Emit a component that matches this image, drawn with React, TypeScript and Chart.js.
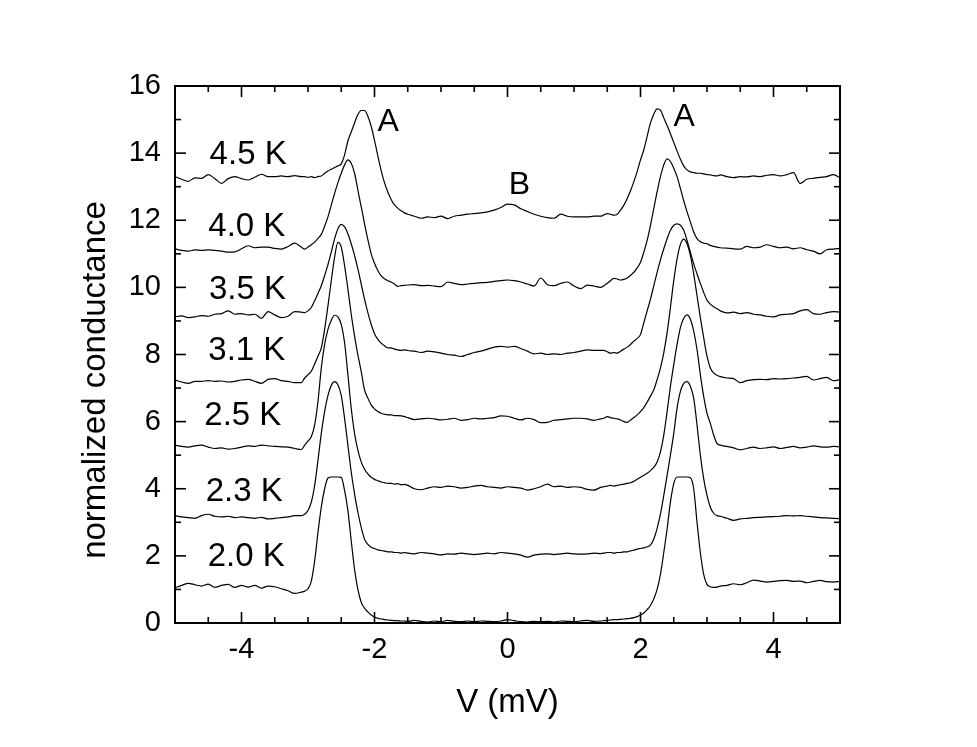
import { useEffect, useRef } from "react";
import { Chart, registerables } from "chart.js";

Chart.register(...registerables);

const FONT = '"Liberation Sans", Arial, Helvetica, sans-serif';

const voltages = [
  -5.0, -4.9, -4.8, -4.7, -4.6, -4.5, -4.4, -4.3, -4.2, -4.1, -4.0, -3.9, -3.8, -3.7, -3.6, -3.5, -3.4, -3.3, -3.2, -3.1,
  -3.05, -3.0, -2.95, -2.9, -2.85, -2.8, -2.75, -2.7, -2.65, -2.6, -2.55, -2.5, -2.45, -2.4, -2.35, -2.3, -2.25, -2.2, -2.15, -2.1, -2.05, -2.0, -1.95, -1.9, -1.85, -1.8, -1.75, -1.7, -1.65, -1.6, -1.55,
  -1.5, -1.4, -1.3, -1.2, -1.1, -1.0, -0.9, -0.8, -0.7, -0.6, -0.5, -0.4, -0.3, -0.2, -0.1, 0, 0.1, 0.2, 0.3, 0.4, 0.5, 0.6, 0.7, 0.8, 0.9, 1.0, 1.1, 1.2, 1.3, 1.4,
  1.45, 1.5, 1.55, 1.6, 1.65, 1.7, 1.75, 1.8, 1.85, 1.9, 1.95, 2.0, 2.05, 2.1, 2.15, 2.2, 2.25, 2.3, 2.35, 2.4, 2.45, 2.5, 2.55, 2.6, 2.65, 2.7, 2.75, 2.8, 2.85, 2.9, 2.95, 3.0, 3.05, 3.1, 3.15, 3.2,
  3.3, 3.4, 3.5, 3.6, 3.7, 3.8, 3.9, 4.0, 4.1, 4.2, 4.3, 4.4, 4.5, 4.6, 4.7, 4.8, 4.9, 5.0,
];

const g45 = [
  13.3, 13.22, 13.16, 13.26, 13.25, 13.36, 13.24, 13.1, 13.24, 13.3, 13.24, 13.2, 13.28, 13.37, 13.3, 13.3, 13.32, 13.3, 13.33, 13.3,
  13.3, 13.28, 13.3, 13.27, 13.3, 13.32, 13.4, 13.47, 13.52, 13.57, 13.62, 13.68, 13.95, 14.36, 14.63, 14.9, 15.15, 15.27, 15.27, 15.1, 14.8, 14.38, 13.92, 13.48, 13.12, 12.84, 12.62, 12.46, 12.36, 12.28, 12.22,
  12.18, 12.12, 12.06, 12.1, 12.08, 12.12, 12.05, 12.12, 12.15, 12.18, 12.2, 12.22, 12.25, 12.3, 12.38, 12.48, 12.46, 12.34, 12.26, 12.18, 12.12, 12.08, 12.06, 12.18, 12.12, 12.1, 12.1, 12.1, 12.12, 12.12,
  12.16, 12.2, 12.18, 12.15, 12.18, 12.3, 12.45, 12.65, 12.88, 13.15, 13.45, 13.8, 14.1, 14.5, 14.9, 15.16, 15.32, 15.28, 15.05, 14.82, 14.58, 14.32, 14.06, 13.82, 13.62, 13.5, 13.44, 13.42, 13.4, 13.4, 13.38, 13.36, 13.35, 13.33, 13.32, 13.35,
  13.3, 13.27, 13.3, 13.29, 13.32, 13.3, 13.34, 13.36, 13.32, 13.36, 13.42, 13.1, 13.22, 13.25, 13.28, 13.3, 13.36, 13.27,
];

const g40 = [
  11.15, 11.1, 11.08, 11.12, 11.1, 11.12, 11.1, 11.08, 11.05, 11.06, 11.15, 11.24, 11.18, 11.2, 11.2, 11.16, 11.14, 11.22, 11.32, 11.2,
  11.14, 11.2, 11.27, 11.35, 11.46, 11.58, 11.82, 12.1, 12.45, 12.8, 13.12, 13.4, 13.65, 13.8, 13.7, 13.4, 12.9, 12.4, 11.9, 11.42, 11.0, 10.72, 10.5, 10.34, 10.26, 10.2, 10.16, 10.1, 10.03, 10.05, 10.06,
  10.07, 10.08, 10.05, 10.06, 10.04, 10.02, 10.16, 10.12, 10.08, 10.1, 10.12, 10.14, 10.15, 10.18, 10.2, 10.22, 10.2, 10.16, 10.1, 10.04, 10.28, 10.08, 10.05, 10.12, 10.16, 10.04, 9.96, 10.07, 10.04, 10.0,
  10.05, 10.12, 10.2, 10.27, 10.25, 10.22, 10.24, 10.28, 10.36, 10.45, 10.58, 10.75, 11.05, 11.4, 11.85, 12.35, 12.85, 13.3, 13.65, 13.83, 13.75, 13.55, 13.3, 12.95, 12.58, 12.25, 11.95, 11.65, 11.45, 11.36, 11.32, 11.3, 11.25, 11.22, 11.2, 11.18,
  11.17, 11.15, 11.14, 11.22, 11.18, 11.2, 11.27, 11.22, 11.18, 11.2, 11.15, 11.18, 11.12, 11.08, 11.0, 11.12, 11.14, 11.16,
];

const g35 = [
  9.12, 9.15, 9.1, 9.12, 9.16, 9.14, 9.2, 9.22, 9.3, 9.2, 9.22, 9.18, 9.2, 9.08, 9.28, 9.18, 9.1, 9.14, 9.28, 9.26,
  9.25, 9.3, 9.4, 9.6, 9.82, 10.05, 10.35, 10.68, 11.05, 11.45, 11.75, 11.88, 11.8, 11.6, 11.3, 10.95, 10.55, 10.1, 9.65, 9.25, 8.9, 8.62, 8.45, 8.34, 8.26, 8.2, 8.2, 8.16, 8.14, 8.12, 8.14,
  8.12, 8.1, 8.06, 8.1, 8.08, 8.04, 8.0, 7.98, 7.94, 8.0, 8.06, 8.1, 8.16, 8.22, 8.24, 8.22, 8.24, 8.18, 8.1, 8.02, 8.04, 8.0, 8.02, 8.0, 8.04, 8.06, 8.1, 8.14, 8.12, 8.12,
  8.12, 8.08, 8.04, 8.06, 8.04, 8.1, 8.16, 8.22, 8.3, 8.4, 8.48, 8.6, 8.95, 9.3, 9.65, 10.05, 10.45, 10.82, 11.15, 11.45, 11.7, 11.85, 11.89, 11.85, 11.7, 11.4, 11.05, 10.7, 10.4, 10.12, 9.85, 9.62, 9.5, 9.42, 9.36, 9.3,
  9.24, 9.26, 9.22, 9.25, 9.2, 9.18, 9.14, 9.12, 9.18, 9.2, 9.22, 9.3, 9.34, 9.22, 9.2, 9.25, 9.28, 9.26,
];

const g31 = [
  7.24, 7.18, 7.14, 7.2, 7.2, 7.22, 7.2, 7.21, 7.18, 7.2, 7.24, 7.26, 7.2, 7.14, 7.26, 7.28, 7.22, 7.2, 7.16, 7.16,
  7.3, 7.4, 7.5, 7.72, 7.95, 8.2, 8.75, 9.45, 10.2, 10.9, 11.34, 11.2, 10.65, 9.95, 9.2, 8.55, 7.99, 7.5, 6.95, 6.7, 6.5, 6.38, 6.3, 6.25, 6.22, 6.2, 6.2, 6.18, 6.18, 6.17, 6.15,
  6.12, 6.06, 6.08, 6.1, 6.08, 6.05, 6.07, 6.1, 6.04, 6.06, 6.1, 6.08, 6.1, 6.12, 6.17, 6.16, 6.1, 6.05, 6.1, 6.06, 5.97, 5.98, 6.04, 6.06, 6.08, 6.1, 6.1, 6.08, 6.04, 6.08,
  6.1, 6.15, 6.12, 6.1, 6.08, 6.05, 6.0, 5.98, 6.05, 6.12, 6.2, 6.3, 6.42, 6.58, 6.76, 6.95, 7.25, 7.6, 8.05, 8.65, 9.4, 10.2, 10.85, 11.28, 11.44, 11.3, 10.95, 10.4, 9.75, 9.1, 8.5, 7.95, 7.6, 7.45, 7.38, 7.34,
  7.3, 7.28, 7.16, 7.22, 7.25, 7.26, 7.25, 7.28, 7.27, 7.28, 7.3, 7.32, 7.35, 7.24, 7.28, 7.32, 7.22, 7.25,
];

const g25 = [
  5.3, 5.26, 5.24, 5.28, 5.3, 5.24, 5.2, 5.22, 5.18, 5.2, 5.24, 5.28, 5.26, 5.3, 5.28, 5.26, 5.25, 5.24, 5.2, 5.17,
  5.3, 5.42, 5.55, 5.9, 6.6, 7.6, 8.3, 8.75, 9.02, 9.17, 9.12, 8.9, 8.35, 7.4, 6.4, 5.65, 5.15, 4.8, 4.58, 4.44, 4.34, 4.28, 4.24, 4.2, 4.18, 4.16, 4.16, 4.14, 4.15, 4.12, 4.13,
  4.1, 4.0, 3.97, 4.02, 4.06, 4.04, 4.08, 4.06, 4.02, 4.04, 4.08, 4.1, 4.06, 4.04, 4.02, 4.06, 4.04, 4.02, 3.96, 4.0, 4.06, 4.14, 4.06, 4.08, 4.04, 4.06, 4.04, 3.98, 3.96, 4.04,
  4.06, 4.08, 4.1, 4.08, 4.1, 4.12, 4.14, 4.16, 4.18, 4.22, 4.28, 4.34, 4.4, 4.46, 4.54, 4.64, 4.8, 5.1, 5.6, 6.3, 7.05, 7.7, 8.3, 8.8, 9.08, 9.18, 9.05, 8.7, 8.15, 7.4, 6.75, 6.25, 5.95, 5.6, 5.35, 5.3,
  5.26, 5.22, 5.16, 5.2, 5.24, 5.2, 5.22, 5.25, 5.2, 5.23, 5.26, 5.22, 5.24, 5.28, 5.25, 5.24, 5.26, 5.25,
];

const g23 = [
  3.2, 3.16, 3.14, 3.12, 3.2, 3.24, 3.18, 3.16, 3.18, 3.14, 3.16, 3.14, 3.12, 3.15, 3.1, 3.12, 3.14, 3.16, 3.2, 3.2,
  3.24, 3.35, 3.6, 4.1, 4.85, 5.65, 6.3, 6.78, 7.08, 7.19, 7.1, 6.78, 6.1, 5.3, 4.5, 3.85, 3.3, 2.85, 2.5, 2.34, 2.26, 2.22, 2.18, 2.16, 2.14, 2.12, 2.12, 2.1, 2.1, 2.08, 2.1,
  2.08, 2.06, 2.1, 2.08, 2.06, 2.03, 2.06, 2.05, 2.08, 2.06, 2.04, 2.06, 2.08, 2.06, 2.1, 2.08, 2.06, 2.02, 1.96, 2.02, 2.05, 2.06, 2.04, 2.06, 2.08, 2.06, 2.05, 2.06, 2.08, 2.07,
  2.08, 2.1, 2.1, 2.08, 2.1, 2.1, 2.12, 2.12, 2.15, 2.17, 2.2, 2.22, 2.24, 2.27, 2.32, 2.5, 2.82, 3.25, 3.8, 4.4, 5.0, 5.65, 6.4, 6.9, 7.14, 7.19, 7.05, 6.7, 5.9, 5.0, 4.3, 3.8, 3.45, 3.27, 3.2, 3.18,
  3.12, 3.06, 3.1, 3.12, 3.14, 3.15, 3.16, 3.17, 3.18, 3.2, 3.19, 3.2, 3.18, 3.16, 3.14, 3.13, 3.12, 3.11,
];

const g20 = [
  1.05, 1.12, 1.18, 1.14, 1.1, 1.16, 1.06, 1.12, 1.15, 1.06, 1.12, 1.07, 1.12, 1.04, 1.1, 1.08, 1.02, 0.96, 0.88, 0.92,
  0.95, 1.02, 1.25, 1.85, 2.7, 3.45, 4.0, 4.32, 4.35, 4.35, 4.35, 4.34, 3.95, 3.35, 2.45, 1.6, 1.0, 0.62, 0.44, 0.33, 0.24, 0.18, 0.14, 0.12, 0.1, 0.09, 0.08, 0.07, 0.07, 0.06, 0.06,
  0.05, 0.08, 0.05, 0.03, 0.06, 0.04, 0.08, 0.05, 0.04, 0.06, 0.04, 0.06, 0.05, 0.04, 0.06, 0.1, 0.07, 0.04, 0.03, 0.05, 0.04, 0.05, 0.03, 0.06, 0.05, 0.04, 0.06, 0.08, 0.05, 0.06,
  0.07, 0.08, 0.09, 0.1, 0.1, 0.11, 0.12, 0.13, 0.14, 0.16, 0.19, 0.24, 0.3, 0.4, 0.52, 0.72, 1.0, 1.45, 2.1, 2.8, 3.6, 4.15, 4.35, 4.35, 4.35, 4.35, 4.33, 4.0, 3.0, 2.1, 1.45, 1.15, 1.08, 1.06, 1.07, 1.1,
  1.12, 1.17, 1.14, 1.2, 1.28, 1.25, 1.22, 1.24, 1.26, 1.27, 1.24, 1.25, 1.2, 1.24, 1.27, 1.23, 1.22, 1.24,
];

const seriesNames = ["4.5 K", "4.0 K", "3.5 K", "3.1 K", "2.5 K", "2.3 K", "2.0 K"];
const seriesValues = [g45, g40, g35, g31, g25, g23, g20];
const labelV = [-3.9, -3.92, -3.91, -3.92, -3.98, -3.96, -3.93];
const labelG = [13.95, 11.81, 9.92, 8.1, 6.17, 3.91, 1.98];

const markTexts = ["A", "A", "B"];
const markV = [-1.795, 2.658, 0.18];
const markG = [14.91, 15.06, 13.04];

const xTickValues = [-4, -2, 0, 2, 4];
const xMinorValues = [-4.5, -3.5, -3, -2.5, -1.5, -1, -0.5, 0.5, 1, 1.5, 2.5, 3, 3.5, 4.5];
const yTickValues = [0, 2, 4, 6, 8, 10, 12, 14, 16];
const yMinorValues = [1, 3, 5, 7, 9, 11, 13, 15];

const xTitle = "V (mV)";
const yTitle = "normalized conductance";
const yTitleCenter = 7.24;

const framePlugin = {
  id: "originFrame",
  afterDraw(chart: any) {
    const { ctx, chartArea: a, scales } = chart;
    const xs = scales.x;
    const ys = scales.y;
    ctx.save();
    ctx.strokeStyle = "#000";
    ctx.lineWidth = 2;
    ctx.strokeRect(a.left, a.top, a.right - a.left, a.bottom - a.top);
    ctx.lineWidth = 1.6;
    const seg = (x1: number, y1: number, x2: number, y2: number) => {
      ctx.beginPath();
      ctx.moveTo(x1, y1);
      ctx.lineTo(x2, y2);
      ctx.stroke();
    };
    const MAJ = 11;
    const MIN = 6;
    xTickValues.forEach((v) => {
      const p = xs.getPixelForValue(v);
      seg(p, a.bottom, p, a.bottom - MAJ);
      seg(p, a.top, p, a.top + MAJ);
    });
    xMinorValues.forEach((v) => {
      const p = xs.getPixelForValue(v);
      seg(p, a.bottom, p, a.bottom - MIN);
      seg(p, a.top, p, a.top + MIN);
    });
    yTickValues.forEach((v) => {
      const p = ys.getPixelForValue(v);
      seg(a.left, p, a.left + MAJ, p);
      seg(a.right, p, a.right - MAJ, p);
    });
    yMinorValues.forEach((v) => {
      const p = ys.getPixelForValue(v);
      seg(a.left, p, a.left + MIN, p);
      seg(a.right, p, a.right - MIN, p);
    });

    ctx.fillStyle = "#000";
    ctx.textAlign = "center";
    ctx.textBaseline = "middle";
    ctx.font = `33px ${FONT}`;
    seriesNames.forEach((t, i) => {
      ctx.fillText(t, xs.getPixelForValue(labelV[i]), ys.getPixelForValue(labelG[i]));
    });
    ctx.font = `32px ${FONT}`;
    markTexts.forEach((t, i) => {
      ctx.fillText(t, xs.getPixelForValue(markV[i]), ys.getPixelForValue(markG[i]));
    });

    ctx.font = `33px ${FONT}`;
    ctx.translate(a.left - 79, ys.getPixelForValue(yTitleCenter));
    ctx.rotate(-Math.PI / 2);
    ctx.fillText(yTitle, 0, 0);
    ctx.restore();
  },
};

export default function App() {
  const ref = useRef<HTMLCanvasElement | null>(null);

  useEffect(() => {
    if (!ref.current) return;
    const chart = new Chart(ref.current, {
      type: "line",
      data: {
        datasets: seriesValues.map((s, k) => ({
          label: seriesNames[k],
          data: voltages.map((v, i) => ({ x: v, y: s[i] })),
          borderColor: "#000",
          borderWidth: 1.2,
          pointRadius: 0,
          fill: false,
          cubicInterpolationMode: "monotone" as const,
        })),
      },
      options: {
        responsive: false,
        animation: false,
        events: [],
        layout: { padding: { top: 86, right: 137, left: 0, bottom: 0 } },
        plugins: { legend: { display: false }, tooltip: { enabled: false } },
        scales: {
          x: {
            type: "linear",
            min: -5,
            max: 5,
            afterBuildTicks: (s: any) => {
              s.ticks = xTickValues.map((v) => ({ value: v }));
            },
            afterFit: (s: any) => {
              s.height = 124;
            },
            grid: { display: false, drawTicks: false },
            border: { display: false },
            ticks: {
              font: { family: FONT, size: 29 },
              color: "#000",
              padding: 10,
              maxRotation: 0,
              autoSkip: false,
            },
            title: {
              display: true,
              text: xTitle,
              color: "#000",
              font: { family: FONT, size: 33 },
              padding: { top: 0, bottom: 24 },
            },
          },
          y: {
            type: "linear",
            min: 0,
            max: 16,
            afterBuildTicks: (s: any) => {
              s.ticks = yTickValues.map((v) => ({ value: v }));
            },
            afterFit: (s: any) => {
              s.width = 175;
            },
            grid: { display: false, drawTicks: false },
            border: { display: false },
            ticks: {
              font: { family: FONT, size: 29 },
              color: "#000",
              padding: 14,
              autoSkip: false,
            },
          },
        },
      },
      plugins: [framePlugin],
    });
    return () => chart.destroy();
  }, []);

  return (
    <div style={{ position: "fixed", left: 0, top: 0, width: 977, height: 747, background: "#fff" }}>
      <canvas ref={ref} width={977} height={747} style={{ width: 977, height: 747, display: "block" }} />
    </div>
  );
}
